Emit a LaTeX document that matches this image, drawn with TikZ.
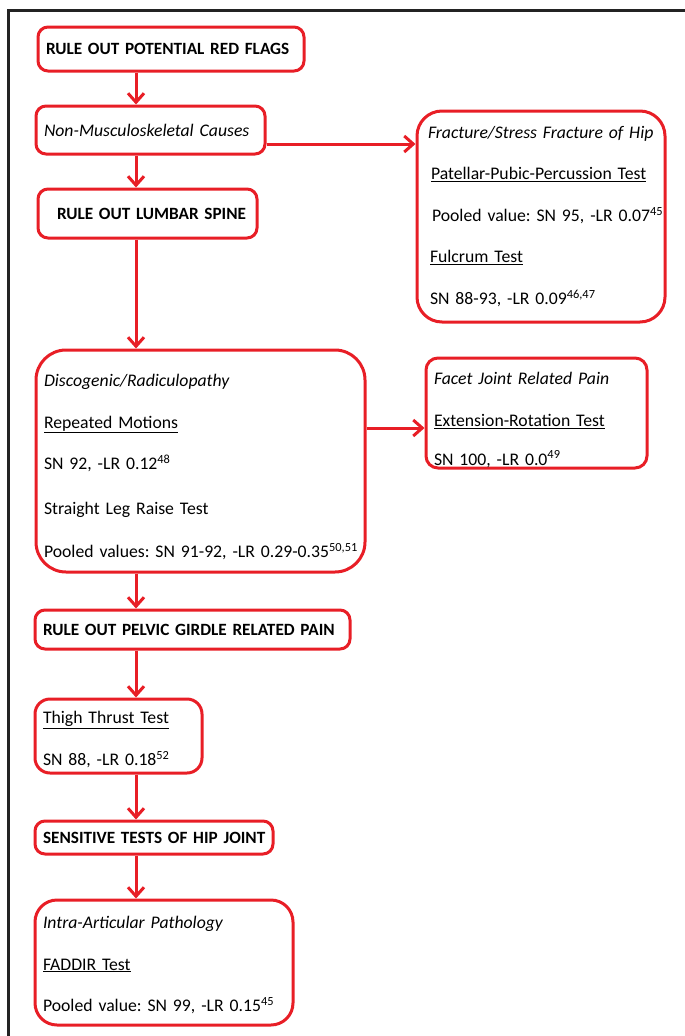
\documentclass[tikz,border=0pt]{standalone}
\usepackage{fontspec}
\setmainfont{Carlito}
\usetikzlibrary{arrows.meta}
\definecolor{flagred}{RGB}{232,30,38}
\definecolor{framegray}{RGB}{35,35,35}

\begin{document}
\begin{tikzpicture}[x=1pt,y=-1pt,
    box/.style={draw=flagred, line width=3pt, fill=white, rounded corners=#1,
        anchor=north west, inner xsep=8pt, inner ysep=0pt, align=left,
        font=\fontsize{17.7}{41.5}\selectfont\frenchspacing},
    box/.default=10pt,
    headbox/.style={box, font=\fontsize{17.2}{20}\selectfont\bfseries},
    link/.style={draw=flagred, line width=3pt, -{Straight Barb[length=9pt,width=16pt]}}]
    \useasboundingbox (0,0) rectangle (685,1036);

    % Frame
    \draw[framegray, line width=3pt] (8,1036) -- (8,10) -- (685,10);

    % Main column
    \node[headbox, minimum width=266pt, text width=250pt, minimum height=44pt] (redflags) at (36.5,25.5)
        {\mbox{RULE OUT POTENTIAL RED FLAGS}};
    \node[box, minimum width=229pt, text width=213pt, minimum height=48pt] (nonmsk) at (34.5,104.5)
        {\mbox{\textit{Non-Musculoskeletal Causes}}};
    \node[headbox, minimum width=219pt, text width=203pt, minimum height=49pt] (lumbar) at (36.5,187.5)
        {\mbox{\hspace{11pt}RULE OUT LUMBAR SPINE}};
    \node[box=30pt, minimum width=329pt, text width=313pt, minimum height=222pt] (disco) at (34.5,348.5)
        {\rule{0pt}{24.5pt}\textit{Discogenic/Radiculopathy}\\
         \underline{Repeated Motions}\\
         SN 92, -LR 0.12\textsuperscript{48}\\[3pt]
         Straight Leg Raise Test\\[2pt]
         \mbox{Pooled values: SN 91-92, -LR 0.29-0.35\textsuperscript{50,51}}};
    \node[headbox, minimum width=315pt, text width=299pt, minimum height=39pt] (pelvic) at (33.5,608.5)
        {\mbox{RULE OUT PELVIC GIRDLE RELATED PAIN}};
    \node[box=15pt, minimum width=167pt, text width=151pt, minimum height=74pt] (thigh) at (33.5,697.5)
        {\rule{0pt}{19.5pt}\underline{Thigh Thrust Test}\\
         \mbox{SN 88, -LR 0.18\textsuperscript{52}}};
    \node[headbox=8pt, minimum width=238pt, text width=222pt, minimum height=33pt] (hipjoint) at (33.5,819.5)
        {\mbox{SENSITIVE TESTS OF HIP JOINT}};
    \node[box=22pt, minimum width=258pt, text width=242pt, minimum height=125pt] (intra) at (33.5,898.5)
        {\rule{0pt}{17.5pt}\textit{Intra-Articular Pathology}\\
         \underline{FADDIR Test}\\
         \mbox{Pooled value: SN 99, -LR 0.15\textsuperscript{45}}};

    % Side boxes
    \node[box=25pt, inner xsep=6pt, minimum width=248pt, text width=236pt, minimum height=211pt] (fracture) at (415.5,109.5)
        {\mbox{\hspace{5pt}\textit{Fracture/Stress Fracture of Hip}}\\
         \mbox{\hspace{8pt}\underline{Patellar-Pubic-Percussion Test}}\\
         \mbox{\hspace{9pt}Pooled value: SN 95, -LR 0.07\textsuperscript{45}}\\
         \mbox{\hspace{7pt}\underline{Fulcrum Test}}\\
         \mbox{\hspace{7pt}SN 88-93, -LR 0.09\textsuperscript{46,47}}};
    \node[box=12pt, minimum width=221pt, text width=205pt, minimum height=110pt] (facet) at (424.5,356.5)
        {\textit{Facet Joint Related Pain}\\
         \underline{Extension-Rotation Test}\\[-2.5pt]
         \mbox{SN 100, -LR 0.0\textsuperscript{49}}\par\kern-14pt};

    % Connectors
    \coordinate (spine) at (136,0);
    \coordinate (hiplevel) at (0,144);
    \coordinate (facetlevel) at (0,428);
    \draw[link] (redflags.south -| spine) -- (nonmsk.north -| spine);
    \draw[link] (nonmsk.south -| spine) -- (lumbar.north -| spine);
    \draw[link] (lumbar.south -| spine) -- (disco.north -| spine);
    \draw[link] (disco.south -| spine) -- (pelvic.north -| spine);
    \draw[link] (pelvic.south -| spine) -- (thigh.north -| spine);
    \draw[link] (thigh.south -| spine) -- (hipjoint.north -| spine);
    \draw[link] (hipjoint.south -| spine) -- (intra.north -| spine);
    \draw[link] (nonmsk.east |- hiplevel) -- (fracture.west |- hiplevel);
    \draw[link] (disco.east |- facetlevel) -- (facet.west |- facetlevel);
\end{tikzpicture}
\end{document}
